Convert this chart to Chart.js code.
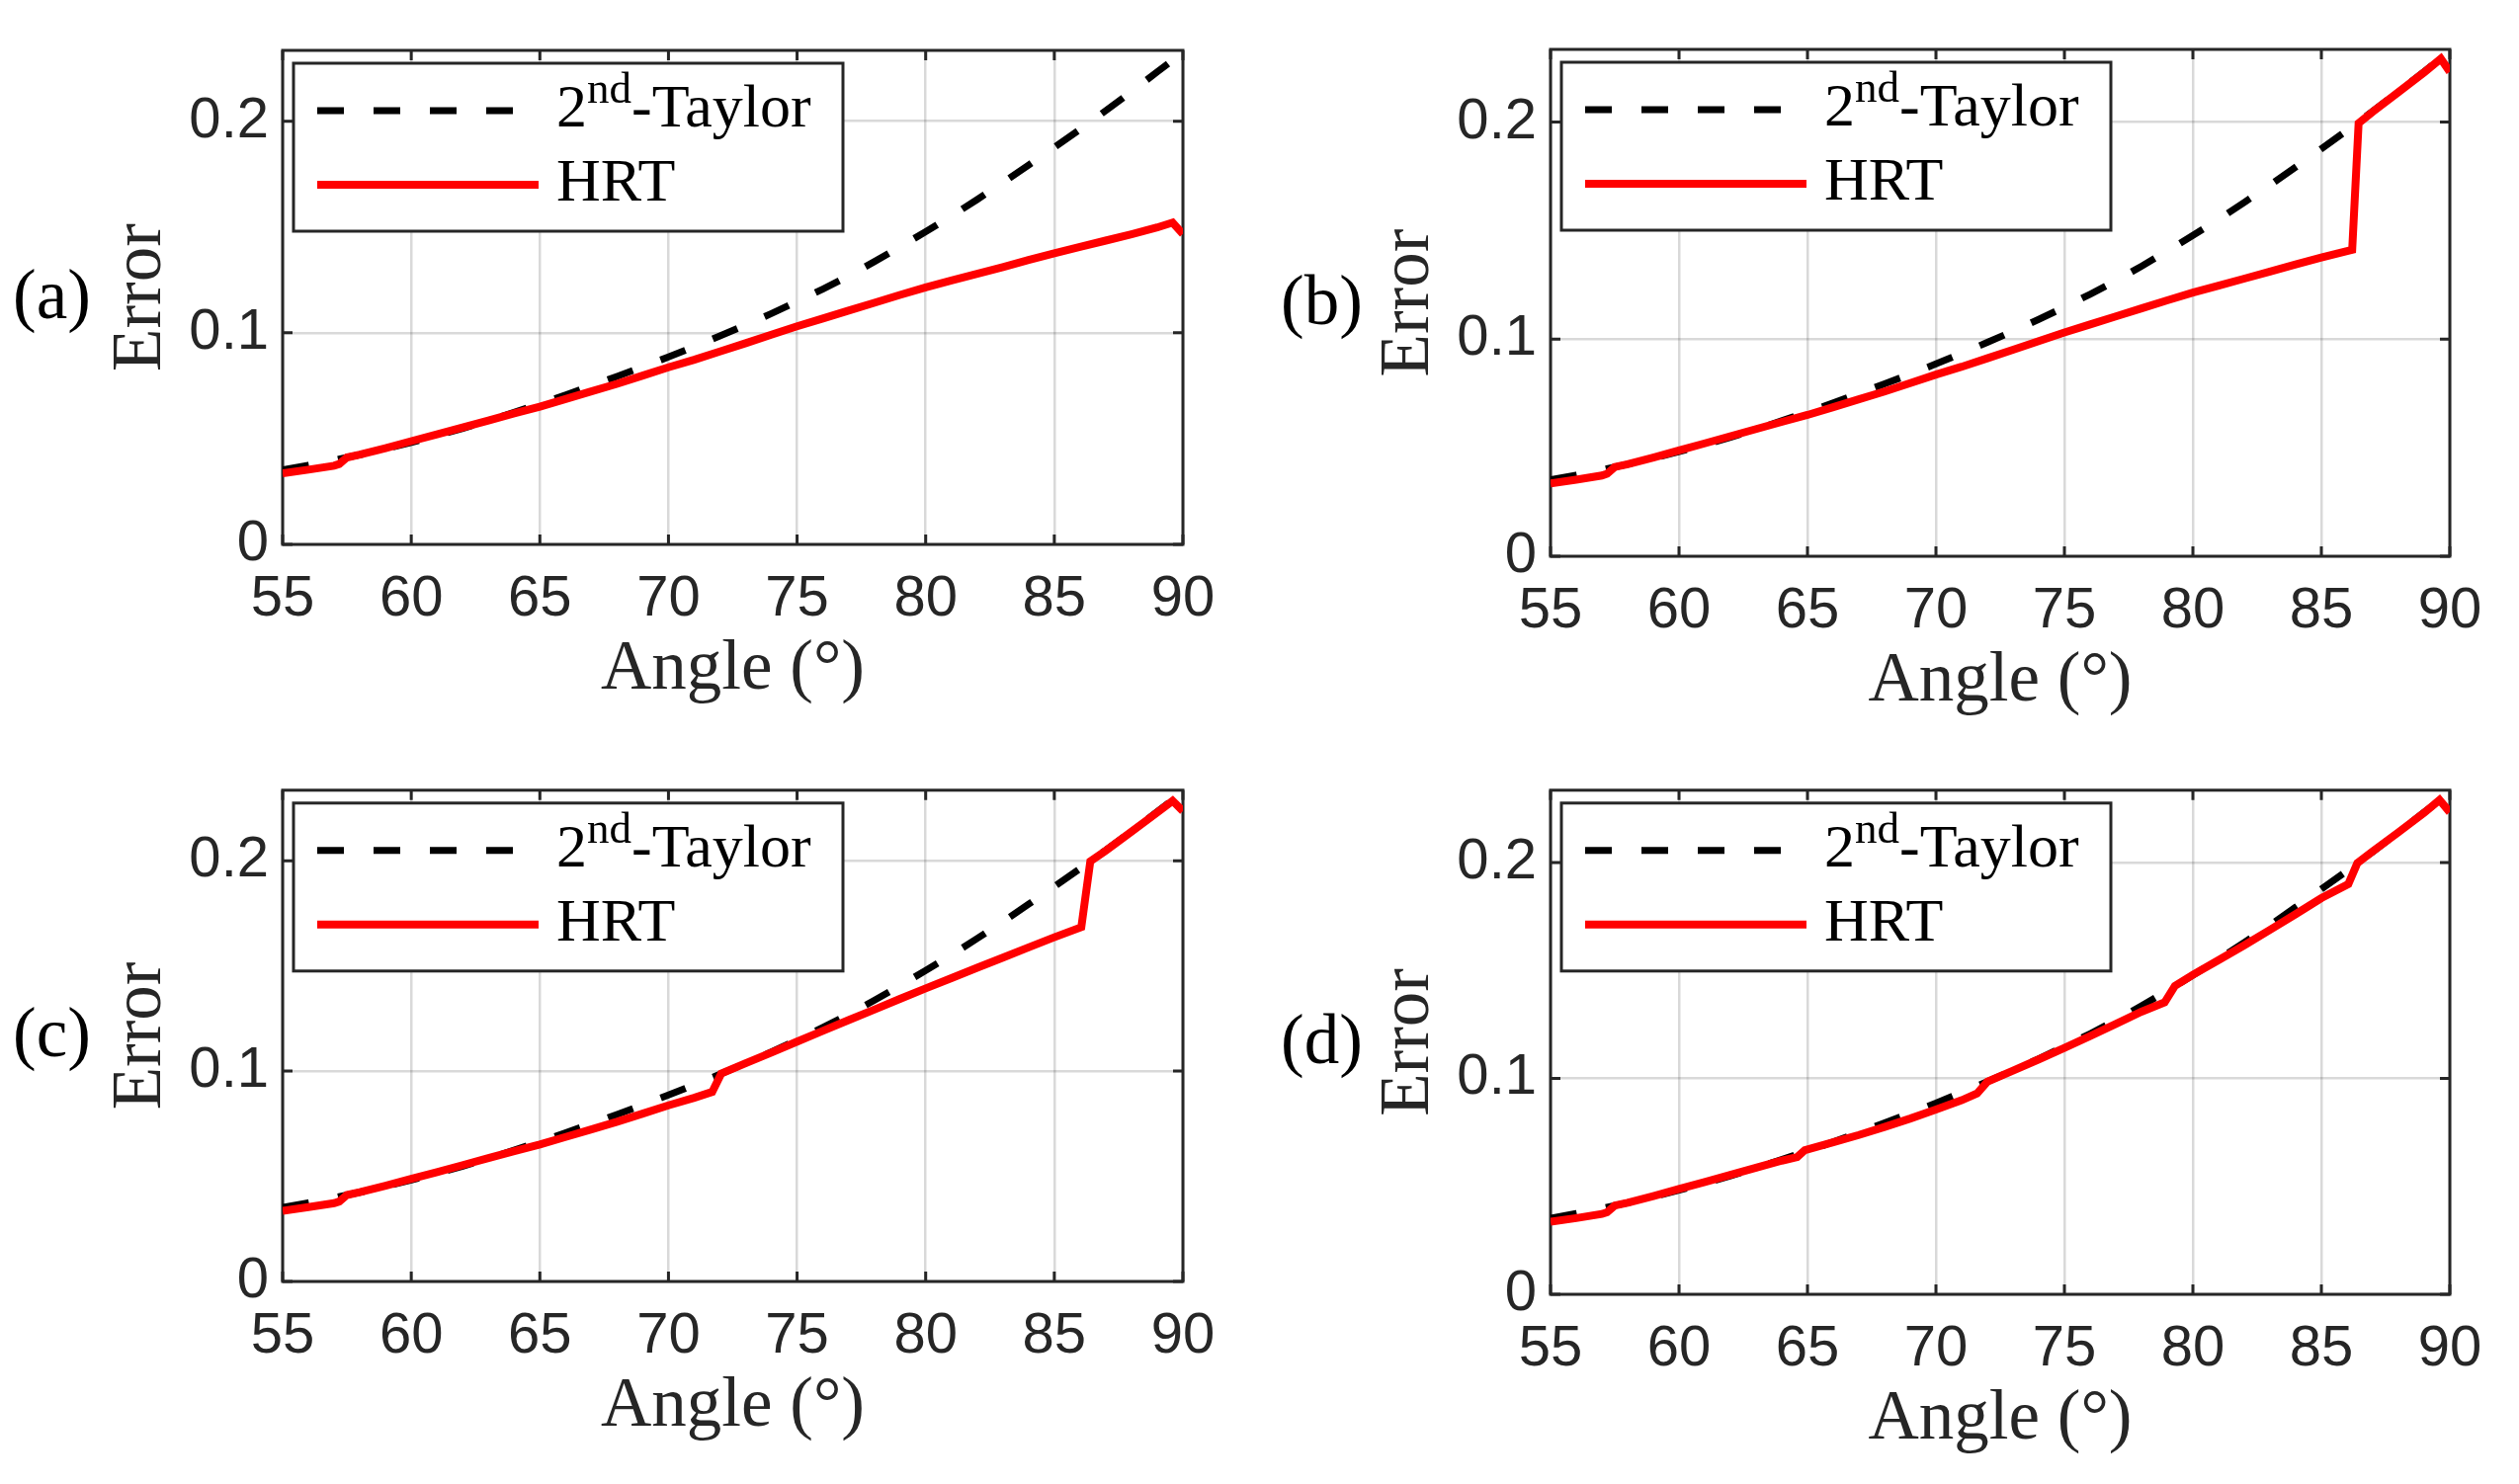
<!DOCTYPE html>
<html>
<head>
<meta charset="utf-8">
<title>Error vs angle</title>
<script src="https://cdn.jsdelivr.net/npm/chart.js@4.4.1/dist/chart.umd.min.js"></script>
<style>
  html, body { margin: 0; padding: 0; background: #fff; }
  #fig { position: relative; width: 2549px; height: 1502px; overflow: hidden; background: #fff; }
  #fig canvas { position: absolute; }
</style>
</head>
<body>
<div id="fig">
  <canvas id="pa"></canvas>
  <canvas id="pb"></canvas>
  <canvas id="pc"></canvas>
  <canvas id="pd"></canvas>
</div>
<script>
/* ---------- data ---------- */
const xTicks = [55, 60, 65, 70, 75, 80, 85, 90];
const yTicks = [0, 0.1, 0.2];
const yMax = 0.2335;
const seriesNames = ['2nd-Taylor', 'HRT'];
const panelTags = ['(a)', '(b)', '(c)', '(d)'];
const xTitle = 'Angle (°)';
const yTitle = 'Error';

// 2nd-order Taylor error (same curve in every panel)
const taylorAngles = [55, 56, 57, 58, 59, 60, 61, 62, 63, 64, 65, 66, 67, 68, 69, 70, 71, 72,
  73, 74, 75, 76, 77, 78, 79, 80, 81, 82, 83, 84, 85, 86, 87, 88, 89, 90];
const taylorError = [0.0352, 0.0374, 0.0398, 0.0424, 0.0452, 0.0482, 0.0514, 0.0548, 0.0585,
  0.0624, 0.0664, 0.0706, 0.0750, 0.0794, 0.0839, 0.0886, 0.0935, 0.0985, 0.1037, 0.1091,
  0.1148, 0.1207, 0.1269, 0.1336, 0.1406, 0.1478, 0.1552, 0.1630, 0.1710, 0.1793, 0.1877,
  0.1962, 0.2050, 0.2140, 0.2233, 0.2325];

// HRT, panel (a)
const hrtAAngles = [55, 56, 57, 57.2, 57.5, 58, 59, 60, 61, 62, 63, 64, 65, 66, 67, 68, 69, 70,
  71, 72, 73, 74, 75, 76, 77, 78, 79, 80, 81, 82, 83, 84, 85, 86, 87, 88, 89, 89.6, 90];
const hrtAError = [0.0336, 0.0353, 0.0372, 0.0380, 0.0411, 0.0424, 0.0455, 0.0488, 0.0520,
  0.0553, 0.0586, 0.0619, 0.0651, 0.0687, 0.0723, 0.0759, 0.0798, 0.0837, 0.0873, 0.0912,
  0.0951, 0.0991, 0.1031, 0.1068, 0.1105, 0.1142, 0.1179, 0.1215, 0.1247, 0.1279, 0.1311,
  0.1344, 0.1376, 0.1406, 0.1436, 0.1466, 0.1498, 0.1521, 0.1467];

// HRT, panel (b)
const hrtBAngles = [55, 56, 57, 57.2, 57.5, 58, 59, 60, 61, 62, 63, 64, 65, 66, 67, 68, 69, 70,
  71, 72, 73, 74, 75, 76, 77, 78, 79, 80, 81, 82, 83, 84, 85, 86, 86.2, 86.45, 87, 88, 89, 89.65, 90];
const hrtBError = [0.0336, 0.0353, 0.0372, 0.0380, 0.0411, 0.0424, 0.0455, 0.0488, 0.0520,
  0.0553, 0.0586, 0.0619, 0.0651, 0.0687, 0.0723, 0.0759, 0.0798, 0.0837, 0.0873, 0.0912,
  0.0951, 0.0991, 0.1031, 0.1068, 0.1105, 0.1142, 0.1179, 0.1215, 0.1247, 0.1279, 0.1311,
  0.1344, 0.1376, 0.1406, 0.1412, 0.1995, 0.2048, 0.2138, 0.2229, 0.2292, 0.2232];

// HRT, panel (c)
const hrtCAngles = [55, 56, 57, 57.2, 57.5, 58, 59, 60, 61, 62, 63, 64, 65, 66, 67, 68, 69, 70,
  71, 71.7, 72.05, 73, 74, 75, 76, 77, 78, 79, 80, 81, 82, 83, 84, 85, 86.05, 86.4, 87, 88, 89, 89.6, 90];
const hrtCError = [0.0336, 0.0353, 0.0372, 0.0380, 0.0411, 0.0424, 0.0455, 0.0488, 0.0520,
  0.0553, 0.0586, 0.0619, 0.0651, 0.0687, 0.0723, 0.0759, 0.0798, 0.0837, 0.0873, 0.0901,
  0.0988, 0.1037, 0.1088, 0.1140, 0.1191, 0.1242, 0.1292, 0.1343, 0.1393, 0.1442, 0.1491,
  0.1539, 0.1588, 0.1636, 0.1684, 0.1997, 0.2048, 0.2138, 0.2229, 0.2285, 0.2236];

// HRT, panel (d)
const hrtDAngles = [55, 56, 57, 57.2, 57.5, 58, 59, 60, 61, 62, 63, 64, 64.6, 64.9, 66, 67, 68,
  69, 70, 71, 71.6, 72, 73, 74, 75, 76, 77, 78, 78.9, 79.3, 80, 81, 82, 83, 84, 85, 86.05,
  86.4, 87, 88, 89, 89.6, 90];
const hrtDError = [0.0336, 0.0353, 0.0372, 0.0380, 0.0411, 0.0424, 0.0455, 0.0488, 0.0520,
  0.0553, 0.0586, 0.0619, 0.0636, 0.0668, 0.0704, 0.0738, 0.0775, 0.0814, 0.0856, 0.0899,
  0.0930, 0.0985, 0.1036, 0.1088, 0.1141, 0.1196, 0.1252, 0.1309, 0.1352, 0.1428, 0.1480,
  0.1548, 0.1617, 0.1688, 0.1761, 0.1835, 0.1900, 0.1997, 0.2052, 0.2140, 0.2230, 0.2290, 0.2233];

/* ---------- look ---------- */
const SANS = '"Liberation Sans", Arial, sans-serif';
const SERIF = '"Liberation Serif", "Times New Roman", serif';
const axisColor = '#262626';
const gridColor = 'rgba(0,0,0,0.15)';
const tickLen = 10;

// canvas placement and plot-area box (canvas-local px) for each panel
const layouts = [
  { id: 'pa', left: 0,    top: 0,   w: 1275, h: 751, l: 286, r: 1197, t: 51, b: 551 },
  { id: 'pb', left: 1275, top: 0,   w: 1274, h: 751, l: 294, r: 1204, t: 50, b: 563 },
  { id: 'pc', left: 0,    top: 751, w: 1275, h: 751, l: 286, r: 1197, t: 45, b: 546 },
  { id: 'pd', left: 1275, top: 751, w: 1274, h: 751, l: 294, r: 1204, t: 45, b: 559 }
];
const hrtAngles = [hrtAAngles, hrtBAngles, hrtCAngles, hrtDAngles];
const hrtErrors = [hrtAError, hrtBError, hrtCError, hrtDError];

const toPoints = (xs, ys) => xs.map((x, i) => ({ x, y: ys[i] }));

// label with an ordinal suffix raised as superscript, e.g. 2nd-Taylor
function drawLegendText(ctx, text, x, y) {
  const m = text.match(/^(\d+)(st|nd|rd|th)(.*)$/);
  ctx.font = `62px ${SERIF}`;
  if (!m) { ctx.fillText(text, x, y); return; }
  ctx.fillText(m[1], x, y);
  x += ctx.measureText(m[1]).width;
  ctx.font = `45px ${SERIF}`;
  ctx.fillText(m[2], x, y - 24);
  x += ctx.measureText(m[2]).width;
  ctx.font = `62px ${SERIF}`;
  ctx.fillText(m[3], x, y);
}

const matlabAxes = {
  id: 'matlabAxes',
  beforeDatasetsDraw(chart) {
    const { ctx, chartArea: a, scales: { x, y } } = chart;
    ctx.save();
    ctx.strokeStyle = axisColor;
    ctx.lineWidth = 3;
    ctx.beginPath();
    xTicks.forEach(v => {
      const px = x.getPixelForValue(v);
      ctx.moveTo(px, a.bottom); ctx.lineTo(px, a.bottom - tickLen);
      ctx.moveTo(px, a.top); ctx.lineTo(px, a.top + tickLen);
    });
    yTicks.forEach(v => {
      const py = y.getPixelForValue(v);
      ctx.moveTo(a.left, py); ctx.lineTo(a.left + tickLen, py);
      ctx.moveTo(a.right, py); ctx.lineTo(a.right - tickLen, py);
    });
    ctx.stroke();
    ctx.strokeRect(a.left, a.top, a.right - a.left, a.bottom - a.top);
    ctx.restore();
  },
  afterDraw(chart, args, opts) {
    const { ctx, chartArea: a } = chart;
    ctx.save();

    // legend box, top-left inside the axes
    const bx = a.left + 11, by = a.top + 13, bw = 556, bh = 170;
    ctx.fillStyle = '#fff';
    ctx.fillRect(bx, by, bw, bh);
    ctx.strokeStyle = axisColor;
    ctx.lineWidth = 3;
    ctx.strokeRect(bx, by, bw, bh);
    const rows = [...chart.data.datasets].sort((p, q) => q.order - p.order);
    rows.forEach((ds, i) => {
      const ly = by + 48 + i * 75;
      ctx.beginPath();
      ctx.strokeStyle = ds.borderColor;
      ctx.lineWidth = ds.borderWidth;
      ctx.setLineDash(ds.borderDash || []);
      ctx.moveTo(bx + 24, ly);
      ctx.lineTo(bx + 248, ly);
      ctx.stroke();
      ctx.setLineDash([]);
      ctx.fillStyle = '#000';
      ctx.textBaseline = 'alphabetic';
      ctx.textAlign = 'left';
      drawLegendText(ctx, ds.label, bx + 266, ly + 16);
    });

    // axis titles and panel tag
    ctx.fillStyle = axisColor;
    ctx.font = `71px ${SERIF}`;
    ctx.textAlign = 'center';
    ctx.textBaseline = 'alphabetic';
    ctx.fillText(xTitle, (a.left + a.right) / 2, a.bottom + 146);
    ctx.save();
    ctx.translate(a.left - 124, (a.top + a.bottom) / 2);
    ctx.rotate(-Math.PI / 2);
    ctx.fillText(yTitle, 0, 0);
    ctx.restore();
    ctx.fillStyle = '#000';
    ctx.textAlign = 'left';
    ctx.fillText(opts.tag, a.left - 273, (a.top + a.bottom) / 2 + 21);
    ctx.restore();
  }
};

layouts.forEach((p, k) => {
  const canvas = document.getElementById(p.id);
  canvas.width = p.w;
  canvas.height = p.h;
  canvas.style.left = p.left + 'px';
  canvas.style.top = p.top + 'px';
  canvas.style.width = p.w + 'px';
  canvas.style.height = p.h + 'px';

  new Chart(canvas.getContext('2d'), {
    type: 'line',
    data: {
      datasets: [
        {
          label: seriesNames[0],
          data: toPoints(taylorAngles, taylorError),
          borderColor: '#000000',
          borderWidth: 7,
          borderDash: [27, 30],
          pointRadius: 0,
          fill: false,
          order: 2
        },
        {
          label: seriesNames[1],
          data: toPoints(hrtAngles[k], hrtErrors[k]),
          borderColor: '#ff0000',
          borderWidth: 8,
          pointRadius: 0,
          fill: false,
          order: 1
        }
      ]
    },
    options: {
      responsive: false,
      animation: false,
      devicePixelRatio: 1,
      layout: { padding: { left: 0, top: p.t, right: p.w - p.r, bottom: 0 } },
      plugins: {
        legend: { display: false },
        tooltip: { enabled: false },
        matlabAxes: { tag: panelTags[k] }
      },
      scales: {
        x: {
          type: 'linear',
          min: 55,
          max: 90,
          afterBuildTicks: s => { s.ticks = xTicks.map(v => ({ value: v })); },
          afterFit: s => { s.height = p.h - p.b; },
          grid: { color: gridColor, lineWidth: 2.5, drawTicks: false },
          border: { display: false },
          ticks: {
            autoSkip: false, maxRotation: 0, padding: 21, color: axisColor,
            font: { family: SANS, size: 58 },
            callback: v => String(v)
          }
        },
        y: {
          type: 'linear',
          min: 0,
          max: yMax,
          afterBuildTicks: s => { s.ticks = yTicks.map(v => ({ value: v })); },
          afterFit: s => { s.width = p.l; },
          grid: { color: gridColor, lineWidth: 2.5, drawTicks: false },
          border: { display: false },
          ticks: {
            padding: 14, color: axisColor,
            font: { family: SANS, size: 58 },
            callback: v => String(v)
          }
        }
      }
    },
    plugins: [matlabAxes]
  });
});
</script>
</body>
</html>
